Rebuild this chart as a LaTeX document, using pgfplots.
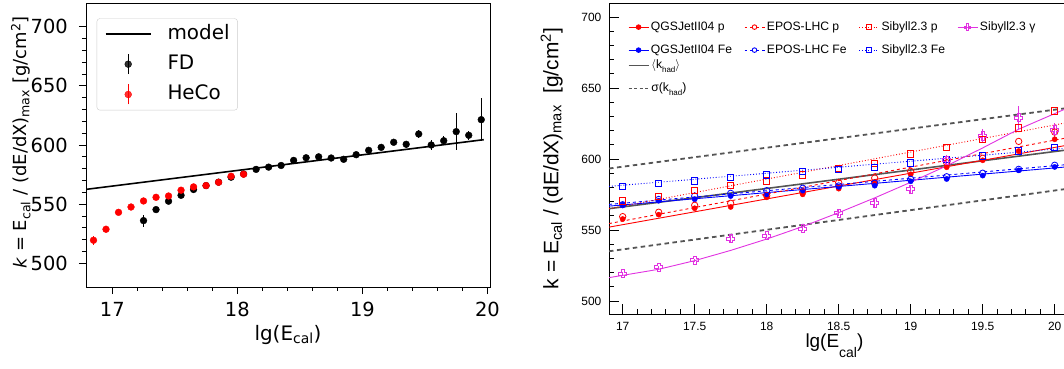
\documentclass[border=0pt]{standalone}
\usepackage{pgfplots}
\usepackage{pgfplotstable}
\pgfplotsset{compat=1.18}
\usepackage{fontspec}
\setmainfont{DejaVu Sans}
\newfontfamily\helv{Liberation Sans}
\definecolor{mag}{RGB}{225,50,225}
\definecolor{kgray}{RGB}{85,85,85}
\newcommand{\lsub}[1]{\raisebox{-0.6ex}{\fontsize{8}{8}\selectfont #1}}

\pgfdeclareplotmark{ocross}{%
 \pgfpathmoveto{\pgfpoint{-0.35\pgfplotmarksize}{\pgfplotmarksize}}%
 \pgfpathlineto{\pgfpoint{0.35\pgfplotmarksize}{\pgfplotmarksize}}%
 \pgfpathlineto{\pgfpoint{0.35\pgfplotmarksize}{0.35\pgfplotmarksize}}%
 \pgfpathlineto{\pgfpoint{\pgfplotmarksize}{0.35\pgfplotmarksize}}%
 \pgfpathlineto{\pgfpoint{\pgfplotmarksize}{-0.35\pgfplotmarksize}}%
 \pgfpathlineto{\pgfpoint{0.35\pgfplotmarksize}{-0.35\pgfplotmarksize}}%
 \pgfpathlineto{\pgfpoint{0.35\pgfplotmarksize}{-\pgfplotmarksize}}%
 \pgfpathlineto{\pgfpoint{-0.35\pgfplotmarksize}{-\pgfplotmarksize}}%
 \pgfpathlineto{\pgfpoint{-0.35\pgfplotmarksize}{-0.35\pgfplotmarksize}}%
 \pgfpathlineto{\pgfpoint{-\pgfplotmarksize}{-0.35\pgfplotmarksize}}%
 \pgfpathlineto{\pgfpoint{-\pgfplotmarksize}{0.35\pgfplotmarksize}}%
 \pgfpathlineto{\pgfpoint{-0.35\pgfplotmarksize}{0.35\pgfplotmarksize}}%
 \pgfpathclose
 \pgfusepathqstroke}

% ---------- left panel data ----------
\pgfplotstableread{
x y e
17.25 536.1 5
17.35 545.4 2
17.45 552.5 1.5
17.55 557.5 1.5
17.65 562.4 1.5
17.75 565.7 1.5
17.85 568.6 1.5
17.95 572.8 1.5
18.05 575.5 1.5
18.15 579.4 1.5
18.25 581.3 1.5
18.35 582.7 1.5
18.45 587.0 1.5
18.55 589.2 1.5
18.65 590.0 1.5
18.75 589.0 1.5
18.85 587.9 2
18.95 591.8 2
19.05 595.5 2
19.15 598.0 2
19.25 602.3 2.5
19.35 600.6 3
19.45 609.3 3
19.55 600.0 4
19.65 603.6 4
19.75 611.3 15.5
19.85 608.2 4
19.95 621.4 18
}\fddata
\pgfplotstableread{
x y e
16.85 519.5 4
16.95 528.8 1.5
17.05 543.1 1.5
17.15 547.6 1.5
17.25 552.7 1.5
17.35 555.8 1.5
17.45 556.9 1.5
17.55 561.8 1.5
17.65 564.6 1.5
17.75 565.7 1.5
17.85 568.5 1.5
17.95 573.6 1.5
18.05 575.3 1.5
}\hecodata

% ---------- right panel data ----------
\pgfplotstableread{
x qp qf ep ef sp sf g ge
17.00 557.7 567.8 559.4 567.8 570.6 580.5 519.2 1
17.25 560.8 570.6 562.5 571.5 573.5 582.6 523.8 1
17.50 565.3 571.6 567.4 573.9 577.7 584.7 528.7 1
17.75 566.2 573.9 568.8 575.8 581.2 587.1 543.9 3
18.00 573.0 575.1 574.2 577.7 584.5 588.7 546.0 1.5
18.25 575.1 577.7 576.8 579.4 588.9 591.1 550.9 1.5
18.50 579.1 580.5 583.3 581.0 593.2 592.7 561.8 2
18.75 583.3 581.2 586.6 582.9 597.0 594.2 569.0 3
19.00 589.2 584.3 591.3 585.7 603.5 597.2 578.7 3
19.25 594.2 585.9 597.4 587.5 608.2 599.8 599.1 4
19.50 599.1 588.3 600.5 590.0 614.0 602.1 616.2 5
19.75 605.6 592.0 612.4 592.7 622.0 605.8 629.1 8
20.00 613.9 594.4 619.0 595.6 633.8 608.0 620.4 5
}\simdata

\pgfplotsset{
  rleg/.style={
    legend cell align=left,
    legend image code/.code={\draw[mark repeat=2,mark phase=2,##1] plot coordinates {(0bp,0bp) (10bp,0bp) (20bp,0bp)};},
    legend style={draw=none, fill=none, inner sep=0pt,
      font=\helv\fontsize{12.2}{12.2}\selectfont, row sep=9bp,
      /tikz/every odd column/.append style={column sep=1bp},
      /tikz/every even column/.append style={column sep=11bp},
      nodes={inner sep=1bp, text height=9bp, text depth=3bp}},
  },
}

\begin{document}
\begin{tikzpicture}
\useasboundingbox (0bp,0bp) rectangle (1064bp,369bp);
% ================= LEFT =================
\begin{axis}[
  at={(86bp,82bp)}, anchor=south west,
  width=404bp, height=284bp, scale only axis,
  xmin=16.79, xmax=20.02, ymin=480, ymax=720,
  xtick={17,18,19,20}, ytick={500,550,...,700},
  minor x tick num=4, minor y tick num=4,
  tick align=outside, tick pos=left,
  major tick length=7bp, minor tick length=4bp,
  every tick/.style={black, line width=0.8bp},
  axis line style={black, line width=0.8bp},
  /pgf/number format/assume math mode=true,
  ticklabel style={font=\fontsize{19.5}{19.5}\selectfont},
  xticklabel style={anchor=north, inner sep=0pt, yshift=-8bp},
  yticklabel style={anchor=east, inner sep=0pt, xshift=-11bp},
  xlabel={lg(E\textsubscript{cal})},
  xlabel style={at={(axis description cs:0.5,0)}, anchor=base, inner sep=0pt, yshift=-53bp, font=\fontsize{20}{20}\selectfont},
  ylabel={\textit{k} = E\textsubscript{cal} / (dE/dX)\textsubscript{max} [g/cm\textsuperscript{2}]},
  ylabel style={at={(axis description cs:-0.1468,0.509)}, anchor=base, inner sep=0pt, font=\fontsize{18}{18}\selectfont},
  legend cell align=left,
  legend style={at={(axis description cs:0.0265,0.946)}, anchor=north west,
    draw=black!20, rounded corners=3bp, fill=white, fill opacity=0.8, text opacity=1,
    font=\fontsize{20}{20}\selectfont, inner xsep=8bp, inner ysep=5bp, row sep=9bp,
    /tikz/every odd column/.append style={column sep=16bp},
    nodes={inner sep=0pt, text height=16bp, text depth=5bp}},
]
\addlegendimage{legend image code/.code={\draw[black,line width=1.6bp] (0bp,0bp) -- (45bp,0bp);}}
\addlegendentry{model}
\addlegendimage{legend image code/.code={\draw[black,line width=1.3bp] (22.5bp,-10bp) -- (22.5bp,10bp); \fill[black] (22.5bp,0bp) circle[radius=3.4bp];}}
\addlegendentry{FD}
\addlegendimage{legend image code/.code={\draw[red,line width=1.3bp] (22.5bp,-10bp) -- (22.5bp,10bp); \fill[red] (22.5bp,0bp) circle[radius=3.4bp];}}
\addlegendentry{HeCo}

\addplot[black, line width=1.6bp, forget plot] coordinates {(16.79,562.5) (19.97,604.5)};
\addplot[only marks, mark=*, mark size=3.4bp, black, forget plot,
  error bars/.cd, y dir=both, y explicit, error mark=none,
  error bar style={black, line width=1.3bp}] table[x=x, y=y, y error=e] {\fddata};
\addplot[only marks, mark=*, mark size=3.4bp, red, forget plot,
  error bars/.cd, y dir=both, y explicit, error mark=none,
  error bar style={red, line width=1.3bp}] table[x=x, y=y, y error=e] {\hecodata};
\end{axis}

% ================= RIGHT =================
\begin{axis}[
  at={(609bp,55bp)}, anchor=south west,
  width=457.2bp, height=311bp, scale only axis,
  xmin=16.905, xmax=20.08, ymin=490.8, ymax=709.9,
  xtick={17,17.5,...,20}, ytick={500,550,...,700},
  minor x tick num=4, minor y tick num=4,
  tick align=inside, tick pos=left,
  major tick length=10bp, minor tick length=5bp,
  every tick/.style={black, line width=0.8bp},
  axis line style={black, line width=0.9bp},
  /pgf/number format/assume math mode=true,
  ticklabel style={font=\helv\fontsize{12}{12}\selectfont},
  xticklabel style={anchor=north, inner sep=0pt, yshift=-8bp},
  yticklabel style={anchor=east, inner sep=0pt, xshift=-7.5bp},
  xlabel={lg(E\raisebox{-1.0ex}{\fontsize{14}{14}\selectfont cal})},
  xlabel style={at={(axis description cs:0.493,0)}, anchor=base, inner sep=0pt, yshift=-33bp, font=\helv\fontsize{19}{19}\selectfont},
  ylabel={k = E\textsubscript{cal} / (dE/dX)\textsubscript{max} \ [g/cm\textsuperscript{2}]},
  ylabel style={at={(axis description cs:-0.1109,0.5)}, anchor=base, inner sep=0pt, font=\helv\fontsize{21}{21}\selectfont},
  rleg, legend columns=4,
  legend style={at={(axis description cs:0.0413,0.9456)}, anchor=north west},
]
% legend entries
\addlegendimage{red, line width=0.9bp, mark=*, mark size=2.3bp, mark options={solid, red}}
\addlegendentry{QGSJetII04 p}
\addlegendimage{red, line width=0.9bp, dashed, mark=o, mark size=2.3bp, mark options={solid, red}}
\addlegendentry{EPOS-LHC p}
\addlegendimage{red, line width=0.9bp, dotted, mark=square, mark size=2.3bp, mark options={solid, red}}
\addlegendentry{Sibyll2.3 p}
\addlegendimage{mag, line width=0.9bp, mark=ocross, mark size=3.3bp, mark options={solid, mag}}
\addlegendentry{Sibyll2.3 γ}
\addlegendimage{blue, line width=0.9bp, mark=*, mark size=2.3bp, mark options={solid, blue}}
\addlegendentry{QGSJetII04 Fe}
\addlegendimage{blue, line width=0.9bp, dashed, mark=o, mark size=2.3bp, mark options={solid, blue}}
\addlegendentry{EPOS-LHC Fe}
\addlegendimage{blue, line width=0.9bp, dotted, mark=square, mark size=2.3bp, mark options={solid, blue}}
\addlegendentry{Sibyll2.3 Fe}

% sigma band and mean
\addplot[kgray, line width=1.8bp, dash pattern=on 4.5bp off 3.5bp, forget plot] coordinates {(16.905,593.3) (20.08,635.8)};
\addplot[kgray, line width=1.8bp, dash pattern=on 4.5bp off 3.5bp, forget plot] coordinates {(16.905,535.0) (20.08,578.9)};
\addplot[kgray, line width=1.6bp, forget plot] coordinates {(16.905,565.0) (20.08,606.3)};
% fits
\addplot[red, line width=0.9bp, forget plot] coordinates {(16.905,552.0) (20.08,609.6)};
\addplot[blue, line width=0.9bp, forget plot] coordinates {(16.905,566.8) (20.08,594.4)};
\addplot[red, line width=0.9bp, dashed, forget plot] coordinates {(16.905,554.5) (20.08,614.8)};
\addplot[blue, line width=0.9bp, dashed, forget plot] coordinates {(16.905,568.0) (20.08,596.0)};
\addplot[red, line width=0.9bp, dotted, forget plot] coordinates {(16.905,565.0) (20.08,625.5)};
\addplot[blue, line width=0.9bp, dotted, forget plot] coordinates {(16.905,580.7) (20.08,607.6)};
\addplot[mag, line width=0.9bp, forget plot] coordinates {(16.905,516.4) (17.25,522.3) (17.5,528.4) (17.75,535.6) (18.0,543.6) (18.25,552.4) (18.5,562.2) (18.75,572.6) (19.0,583.6) (19.25,595.2) (19.5,607.8) (19.75,621.0) (20.08,635.5)};
% points
\addplot[only marks, mark=*, mark size=2.6bp, red, forget plot] table[x=x, y=qp] {\simdata};
\addplot[only marks, mark=*, mark size=2.6bp, blue, forget plot] table[x=x, y=qf] {\simdata};
\addplot[only marks, mark=o, mark size=3.2bp, red, line width=0.8bp, forget plot] table[x=x, y=ep] {\simdata};
\addplot[only marks, mark=o, mark size=3.2bp, blue, line width=0.8bp, forget plot] table[x=x, y=ef] {\simdata};
\addplot[only marks, mark=square, mark size=3.2bp, red, line width=0.8bp, forget plot] table[x=x, y=sp] {\simdata};
\addplot[only marks, mark=square, mark size=3.2bp, blue, line width=0.8bp, forget plot] table[x=x, y=sf] {\simdata};
\addplot[only marks, mark=ocross, mark size=4.2bp, mag, line width=0.8bp, forget plot,
  error bars/.cd, y dir=both, y explicit, error mark=none,
  error bar style={mag, line width=0.8bp}] table[x=x, y=g, y error=ge] {\simdata};
\end{axis}

% second legend block (mean and spread of k_had)
\begin{axis}[
  at={(609bp,55bp)}, anchor=south west,
  width=457.2bp, height=311bp, scale only axis, hide axis,
  xmin=0, xmax=1, ymin=0, ymax=1,
  rleg, legend columns=1,
  legend style={at={(axis description cs:0.0413,0.822)}, anchor=north west},
]
\addlegendimage{kgray, line width=1.3bp}
\addlegendentry{$\langle$k\lsub{had}$\rangle$}
\addlegendimage{kgray, line width=1.3bp, dash pattern=on 3bp off 2.5bp}
\addlegendentry{σ(k\lsub{had})}
\end{axis}
\end{tikzpicture}
\end{document}
